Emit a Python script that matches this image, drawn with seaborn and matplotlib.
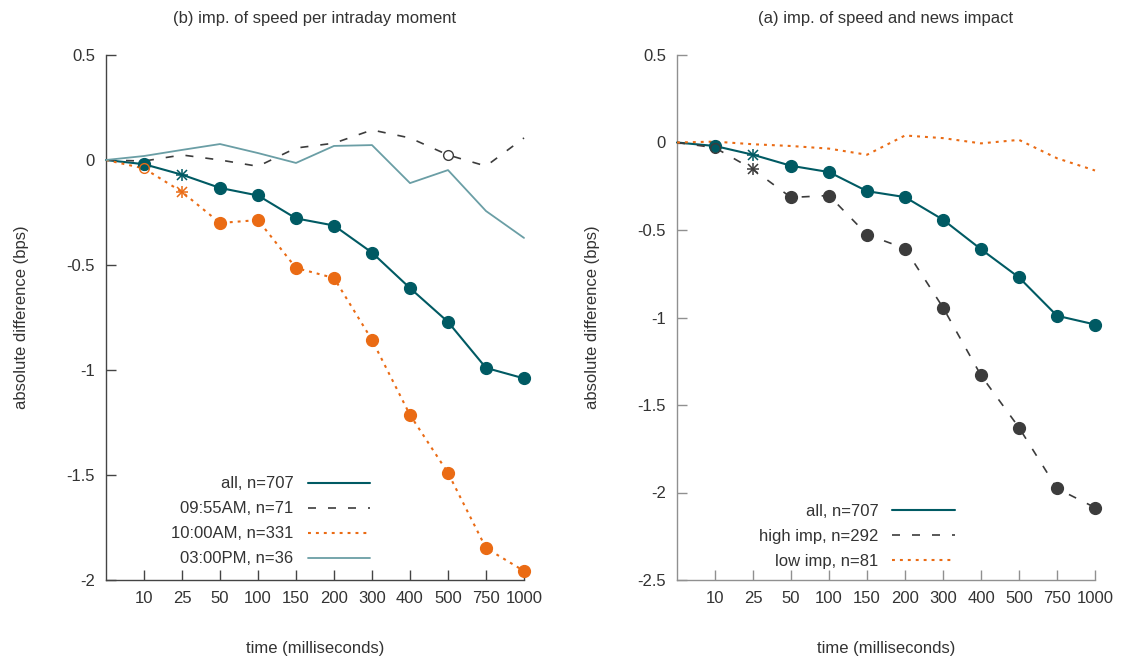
import numpy as np
import matplotlib
matplotlib.use("Agg")
import matplotlib.pyplot as plt
import seaborn as sns

# x categories (milliseconds); first point is the zero reference, unlabeled
times = ["0", "10", "25", "50", "100", "150", "200", "300", "400", "500", "750", "1000"]

# panel (b): per intraday moment
all_vals = [0, -0.02, -0.07, -0.133, -0.169, -0.278, -0.312, -0.441, -0.61, -0.771, -0.99, -1.04]
am0955_vals = [0, -0.005, 0.024, 0.0, -0.03, 0.057, 0.08, 0.143, 0.105, 0.024, -0.029, 0.105]
am1000_vals = [0, -0.04, -0.152, -0.3, -0.286, -0.514, -0.562, -0.857, -1.214, -1.49, -1.848, -1.957]
pm0300_vals = [0, 0.019, 0.048, 0.076, 0.033, -0.014, 0.067, 0.071, -0.11, -0.048, -0.243, -0.371]

# panel (a): news impact
high_vals = [0, -0.03, -0.154, -0.314, -0.303, -0.526, -0.606, -0.943, -1.331, -1.629, -1.977, -2.086]
low_vals = [0, 0.005, -0.01, -0.02, -0.035, -0.07, 0.04, 0.025, -0.005, 0.015, -0.09, -0.16]

# significance per point: 0 none, 1 open circle, 2 asterisk, 3 filled circle
all_sig = [0, 3, 2, 3, 3, 3, 3, 3, 3, 3, 3, 3]
am0955_sig = [0, 0, 0, 0, 0, 0, 0, 0, 0, 1, 0, 0]
am1000_sig = [0, 1, 2, 3, 3, 3, 3, 3, 3, 3, 3, 3]
pm0300_sig = [0] * 12
high_sig = [0, 1, 2, 3, 3, 3, 3, 3, 3, 3, 3, 3]
low_sig = [0] * 12

left_yticks = [0.5, 0, -0.5, -1, -1.5, -2]
left_ylabels = ["0.5", "0", "-0.5", "-1", "-1.5", "-2"]
right_yticks = [0.5, 0, -0.5, -1, -1.5, -2, -2.5]
right_ylabels = ["0.5", "0", "-0.5", "-1", "-1.5", "-2", "-2.5"]

TEAL = "#005a63"
ORANGE = "#ea6b14"
GREY = "#3c3c3c"
LTEAL = "#6a9ea5"

sns.set_theme(style="white")
plt.rcParams['font.family'] = ['Liberation Sans', 'DejaVu Sans']
plt.rcParams['font.size'] = 12
plt.rcParams['xtick.direction'] = 'in'
plt.rcParams['ytick.direction'] = 'in'
plt.rcParams['xtick.bottom'] = True
plt.rcParams['ytick.left'] = True

pos = np.arange(len(times))


def draw_series(ax, vals, sig, label, color, lw, ls):
    sns.lineplot(x=pos, y=vals, ax=ax, color=color, linewidth=lw,
                 linestyle=ls, label=label, clip_on=False, zorder=3)
    vals = np.asarray(vals)
    sig = np.asarray(sig)
    m = sig == 3
    ax.plot(pos[m], vals[m], 'o', ms=8.5, color=color, mec=color,
            clip_on=False, zorder=4)
    m = sig == 2
    ax.plot(pos[m], vals[m], '+', ms=9, mew=1.1, color=color, clip_on=False, zorder=4)
    ax.plot(pos[m], vals[m], 'x', ms=6.5, mew=1.1, color=color, clip_on=False, zorder=4)
    m = sig == 1
    ax.plot(pos[m], vals[m], 'o', ms=7, mfc='none', mew=1.0, mec=color,
            clip_on=False, zorder=4)


def style_axes(ax, yticks, ylabels, spine_color, title, legend_anchor):
    ax.set_xlim(0, len(times) - 1)
    ax.set_ylim(min(yticks), max(yticks))
    ax.set_xticks(pos[1:])
    ax.set_xticklabels(times[1:])
    ax.set_yticks(yticks)
    ax.set_yticklabels(ylabels)
    for s in ['top', 'right']:
        ax.spines[s].set_visible(False)
    for s in ['left', 'bottom']:
        ax.spines[s].set_color(spine_color)
        ax.spines[s].set_linewidth(1.0)
    ax.tick_params(bottom=True, left=True, direction='in', length=7.5, width=1.0,
                   color=spine_color, labelsize=12, labelcolor='#333333')
    ax.tick_params(axis='x', pad=8)
    ax.tick_params(axis='y', pad=8)
    ax.set_title(title, fontsize=12, color='#333333', pad=23)
    ax.set_xlabel("time (milliseconds)", fontsize=12, color='#333333', labelpad=25)
    ax.set_ylabel("absolute difference (bps)", fontsize=12, color='#333333')
    ax.yaxis.set_label_coords(-0.184, 0.5)
    ax.legend(loc='lower right', bbox_to_anchor=legend_anchor, frameon=False,
              markerfirst=False, handlelength=3.75, handletextpad=0.85,
              labelspacing=0.6, borderpad=0, borderaxespad=0, fontsize=12,
              labelcolor='#333333')


fig = plt.figure(figsize=(11.21, 6.57), dpi=100)
ax1 = fig.add_axes([106 / 1121, 1 - 580 / 657, 418 / 1121, 525 / 657])
ax2 = fig.add_axes([677 / 1121, 1 - 580 / 657, 418 / 1121, 525 / 657])

draw_series(ax1, all_vals, all_sig, "all, n=707", TEAL, 1.5, '-')
draw_series(ax1, am0955_vals, am0955_sig, "09:55AM, n=71", GREY, 1.2, (0, (4.8, 7.2)))
draw_series(ax1, am1000_vals, am1000_sig, "10:00AM, n=331", ORANGE, 1.5, (0, (1.4, 2.4)))
draw_series(ax1, pm0300_vals, pm0300_sig, "03:00PM, n=36", LTEAL, 1.3, '-')
style_axes(ax1, left_yticks, left_ylabels, '#444444',
           "(b) imp. of speed per intraday moment", (0.632, 0.026))

draw_series(ax2, all_vals, all_sig, "all, n=707", TEAL, 1.5, '-')
draw_series(ax2, high_vals, high_sig, "high imp, n=292", GREY, 1.2, (0, (4.8, 7.2)))
draw_series(ax2, low_vals, low_sig, "low imp, n=81", ORANGE, 1.5, (0, (1.4, 2.4)))
style_axes(ax2, right_yticks, right_ylabels, '#909090',
           "(a) imp. of speed and news impact", (0.665, 0.021))

fig.savefig("out.png", dpi=100)
